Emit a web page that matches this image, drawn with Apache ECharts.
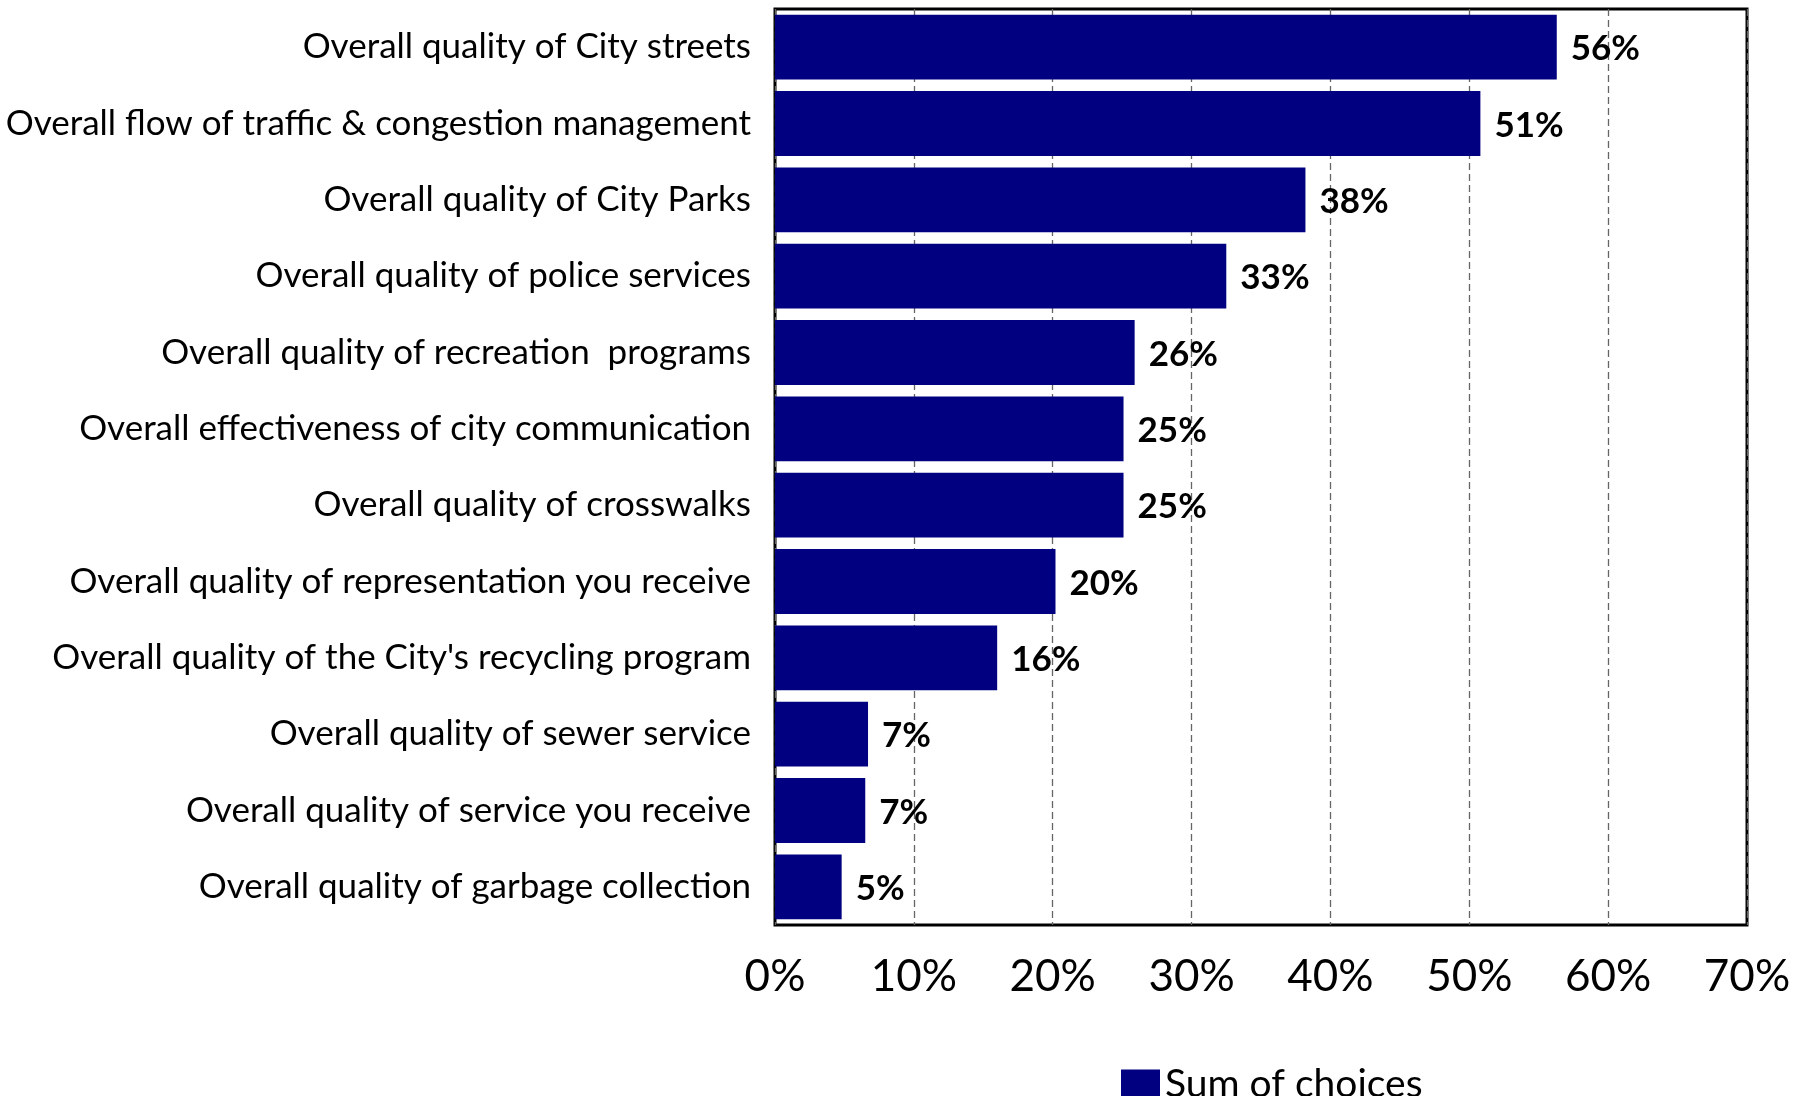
<!DOCTYPE html>
<html lang="en">
<head>
    <meta charset="UTF-8">
    <title>Sum of choices</title>
    <script src="https://cdn.jsdelivr.net/npm/echarts@6/dist/echarts.min.js"></script>
    <style>
        html, body { margin: 0; padding: 0; background: #fff; }
        #main { width: 1809px; height: 1096px; }
    </style>
</head>
<body>
<div id="main"></div>
<script type="text/javascript">
    // categories, top to bottom
    var categories = [
        "Overall quality of City streets",
        "Overall flow of traffic & congestion management",
        "Overall quality of City Parks",
        "Overall quality of police services",
        "Overall quality of recreation  programs",
        "Overall effectiveness of city communication",
        "Overall quality of crosswalks",
        "Overall quality of representation you receive",
        "Overall quality of the City's recycling program",
        "Overall quality of sewer service",
        "Overall quality of service you receive",
        "Overall quality of garbage collection"
    ];
    // share of respondents (%)
    var sumOfChoices = [56.3, 50.8, 38.2, 32.5, 25.9, 25.1, 25.1, 20.2, 16.0, 6.7, 6.5, 4.8];
    var xTicks = [0, 10, 20, 30, 40, 50, 60, 70];

    var fontName = "Lato";
    var myChart = echarts.init(document.getElementById("main"));

    var option = {
        animation: false,
        grid: {
            left: 775,
            right: 62,
            top: 9,
            bottom: 171,
            show: true,
            borderColor: "#000",
            borderWidth: 3,
            outerBoundsMode: "none"
        },
        legend: {
            data: ["Sum of choices"],
            left: 1116,
            top: 1060,
            icon: "rect",
            itemWidth: 39,
            itemHeight: 30,
            itemGap: 8,
            textStyle: { fontFamily: fontName, fontSize: 39, color: "#000" }
        },
        xAxis: {
            type: "value",
            min: xTicks[0],
            max: xTicks[xTicks.length - 1],
            interval: 10,
            axisLine: { show: false },
            axisTick: { show: false },
            axisLabel: {
                margin: 30,
                fontFamily: fontName,
                fontSize: 44,
                color: "#000",
                formatter: function (v) { return v + "%"; }
            },
            splitLine: {
                show: true,
                lineStyle: { color: "#666", width: 1.3, type: [7, 4] }
            }
        },
        yAxis: {
            type: "category",
            data: categories,
            inverse: true,
            axisLine: { show: false },
            axisTick: { show: false },
            axisLabel: {
                margin: 24,
                fontFamily: fontName,
                fontSize: 35,
                color: "#000",
                padding: [5, 0, 0, 0]
            }
        },
        series: [{
            name: "Sum of choices",
            type: "bar",
            data: sumOfChoices,
            barCategoryGap: "15%",
            itemStyle: { color: "#000080" },
            label: {
                show: true,
                position: "right",
                distance: 14,
                fontFamily: fontName,
                fontWeight: "bold",
                fontSize: 35,
                color: "#000",
                offset: [0, 2],
                formatter: function (p) { return Math.round(p.value) + "%"; }
            }
        }]
    };
    myChart.setOption(option);
</script>
</body>
</html>
